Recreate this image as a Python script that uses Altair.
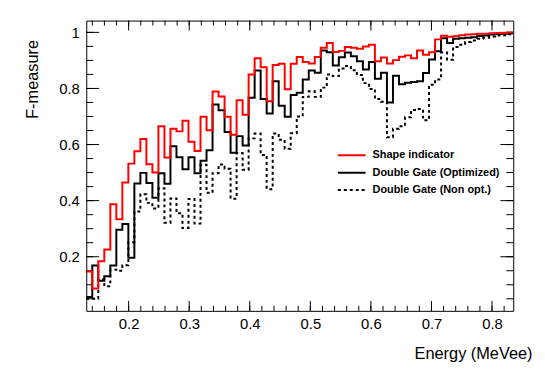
import altair as alt
import numpy as np
import pandas as pd

# Histogram binning (71 bins between 0.13 and 0.835 MeVee)
x_min, x_max, n_bins = 0.13, 0.835, 71

series_names = ["Shape indicator", "Double Gate (Optimized)", "Double Gate (Non opt.)"]

shape_indicator = [
    0.147, 0.087, 0.184, 0.226, 0.387, 0.334, 0.465, 0.532, 0.576, 0.620,
    0.530, 0.500, 0.665, 0.554, 0.656, 0.647, 0.685, 0.610, 0.577, 0.699,
    0.651, 0.789, 0.771, 0.699, 0.635, 0.758, 0.706, 0.850, 0.908, 0.876,
    0.754, 0.884, 0.888, 0.797, 0.888, 0.912, 0.894, 0.889, 0.912, 0.945,
    0.962, 0.930, 0.934, 0.948, 0.945, 0.942, 0.950, 0.956, 0.897, 0.910,
    0.889, 0.901, 0.913, 0.918, 0.908, 0.935, 0.920, 0.929, 0.975, 0.988,
    0.984, 0.986, 0.990, 0.992, 0.993, 0.995, 0.995, 0.997, 0.998, 0.998,
    1.000,
]

double_gate_opt = [
    0.056, 0.169, 0.114, 0.130, 0.169, 0.296, 0.317, 0.196, 0.461, 0.499,
    0.463, 0.410, 0.498, 0.460, 0.594, 0.555, 0.512, 0.555, 0.498, 0.542,
    0.580, 0.743, 0.722, 0.645, 0.571, 0.630, 0.597, 0.767, 0.864, 0.762,
    0.711, 0.826, 0.738, 0.699, 0.777, 0.785, 0.832, 0.864, 0.856, 0.935,
    0.929, 0.882, 0.911, 0.928, 0.915, 0.897, 0.868, 0.894, 0.835, 0.856,
    0.750, 0.845, 0.815, 0.820, 0.823, 0.826, 0.855, 0.903, 0.933, 0.979,
    0.962, 0.977, 0.979, 0.981, 0.983, 0.987, 0.989, 0.992, 0.994, 0.995,
    0.997,
]

double_gate_nonopt = [
    0.050, 0.050, 0.120, 0.095, 0.154, 0.150, 0.170, 0.252, 0.361, 0.423,
    0.392, 0.372, 0.444, 0.321, 0.408, 0.355, 0.302, 0.406, 0.318, 0.528,
    0.428, 0.498, 0.529, 0.514, 0.407, 0.570, 0.510, 0.622, 0.639, 0.563,
    0.441, 0.639, 0.617, 0.585, 0.640, 0.700, 0.770, 0.790, 0.770, 0.803,
    0.850, 0.844, 0.871, 0.880, 0.865, 0.848, 0.819, 0.798, 0.762, 0.753,
    0.626, 0.656, 0.665, 0.697, 0.723, 0.727, 0.687, 0.813, 0.832, 0.928,
    0.902, 0.948, 0.956, 0.966, 0.971, 0.977, 0.981, 0.985, 0.989, 0.990,
    0.993,
]

x_label_ticks = [0.2, 0.3, 0.4, 0.5, 0.6, 0.7, 0.8]
y_label_ticks = [0.2, 0.4, 0.6, 0.8, 1.0]
x_minor_ticks = [round(v, 3) for v in np.arange(0.14, 0.835, 0.02)]
y_minor_ticks = [round(v, 3) for v in np.arange(0.05, 1.04, 0.05)]

y_min, y_max = 0.007, 1.042

edges = np.linspace(x_min, x_max, n_bins + 1)
rows = []
for name, vals in zip(series_names, [shape_indicator, double_gate_opt, double_gate_nonopt]):
    ys = list(vals) + [vals[-1]]
    for e, v in zip(edges, ys):
        rows.append({"energy": float(e), "f": float(v), "series": name})
df = pd.DataFrame(rows)

W, H = 431, 293
FONT = "Liberation Sans"
X_MAJOR, X_MINOR, Y_MAJOR, Y_MINOR = 10, 5, 13, 7

xscale = alt.Scale(domain=[x_min, x_max], nice=False, zero=False)
yscale = alt.Scale(domain=[y_min, y_max], nice=False, zero=False)
color_scale = alt.Scale(domain=series_names, range=["#ff0000", "#000000", "#000000"])
dash_scale = alt.Scale(domain=series_names, range=[[1, 0], [1, 0], [3, 3]])

legend = alt.Legend(
    title=None, orient="none", legendX=260, legendY=128,
    symbolType="M-2,0H2", symbolSize=196, symbolStrokeWidth=2,
    labelFont=FONT, labelFontSize=11, labelFontWeight="bold", labelColor="black",
    labelOffset=13, rowPadding=4.5, padding=0,
)

# one shared axis definition per direction, given identically to every layer
x_axis = alt.Axis(
    orient="bottom", values=x_label_ticks, format="~g", ticks=False, tickSize=0,
    domain=False, grid=False,
    labelFont=FONT, labelFontSize=15, labelColor="black", labelPadding=6,
    title="Energy (MeVee)", titleFont=FONT, titleFontSize=16.5, titleFontWeight="normal",
    titleColor="black", titleAlign="right", titleBaseline="alphabetic", titleX=450, titleY=48,
)
y_axis = alt.Axis(
    orient="left", values=y_label_ticks, format="~g", ticks=False, tickSize=0,
    domain=False, grid=False,
    labelFont=FONT, labelFontSize=15, labelColor="black", labelPadding=7,
    title="F-measure", titleFont=FONT, titleFontSize=16.5, titleFontWeight="normal",
    titleColor="black", titleAngle=-90, titleAlign="right", titleBaseline="alphabetic",
    titleX=-49, titleY=19,
)


def series_layer(name):
    return (
        alt.Chart(df)
        .transform_filter(alt.datum.series == name)
        .mark_line(interpolate="step-after", strokeWidth=2, clip=True)
        .encode(
            x=alt.X("energy:Q", scale=xscale, axis=x_axis),
            y=alt.Y("f:Q", scale=yscale, axis=y_axis),
            color=alt.Color("series:N", scale=color_scale, legend=legend),
            strokeDash=alt.StrokeDash("series:N", scale=dash_scale, legend=legend),
        )
    )


# inward axis ticks on all four sides (ROOT style), placed through the scales
def x_ticks(values, length, at_top):
    y0, y1 = (0, length) if at_top else (H, H - length)
    return (
        alt.Chart(pd.DataFrame({"t": values}))
        .mark_rule(color="black", strokeWidth=1)
        .encode(x=alt.X("t:Q", scale=xscale, axis=x_axis), y=alt.value(y0), y2=alt.value(y1))
    )


def y_ticks(values, length, at_right):
    x0, x1 = (W, W - length) if at_right else (0, length)
    return (
        alt.Chart(pd.DataFrame({"t": values}))
        .mark_rule(color="black", strokeWidth=1)
        .encode(y=alt.Y("t:Q", scale=yscale, axis=y_axis), x=alt.value(x0), x2=alt.value(x1))
    )


tick_layers = [
    x_ticks(x_label_ticks, X_MAJOR, False), x_ticks(x_minor_ticks, X_MINOR, False),
    x_ticks(x_label_ticks, X_MAJOR, True), x_ticks(x_minor_ticks, X_MINOR, True),
    y_ticks(y_label_ticks, Y_MAJOR, False), y_ticks(y_minor_ticks, Y_MINOR, False),
    y_ticks(y_label_ticks, Y_MAJOR, True), y_ticks(y_minor_ticks, Y_MINOR, True),
]

dotted = series_layer(series_names[2])
black = series_layer(series_names[1])
red = series_layer(series_names[0])

chart = (
    alt.layer(*tick_layers, dotted, black, red)
    .properties(
        width=W, height=H,
        autosize=alt.AutoSizeParams(type="none"),
        padding={"left": 79, "top": 11, "right": 24, "bottom": 58},
        background="white",
    )
    .configure_view(stroke="black", strokeWidth=1)
)

chart.save("out.html", embed_options={"renderer": "svg", "actions": False})
